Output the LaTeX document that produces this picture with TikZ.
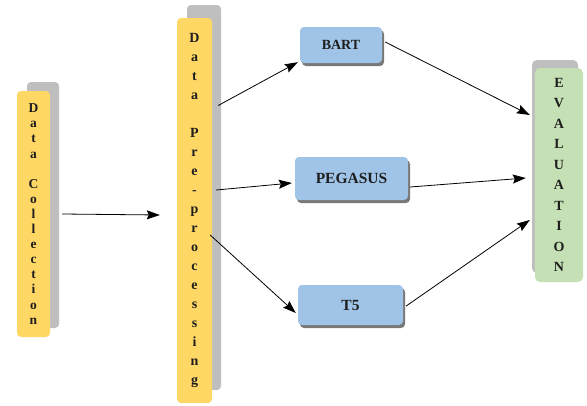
\documentclass[tikz,border=0pt]{standalone}
\usepackage{fontspec}
\setmainfont{Liberation Serif}
\usetikzlibrary{arrows.meta}
\definecolor{ylw}{RGB}{255,215,100}
\definecolor{shd}{RGB}{191,191,191}
\definecolor{blu}{RGB}{160,196,232}
\definecolor{grn}{RGB}{197,224,180}
\definecolor{dsh}{RGB}{120,120,120}
\definecolor{txt}{RGB}{30,30,30}
\tikzset{
  shadowbox/.style={fill=shd, draw=none, rounded corners=4pt, inner sep=0pt},
  vbox/.style={fill=ylw, draw=none, rounded corners=4pt, inner sep=0pt, align=center, text=txt},
  evbox/.style={fill=grn, draw=none, rounded corners=5pt, inner sep=0pt, align=center, text=txt},
  modelbox/.style={fill=blu, draw=none, rounded corners=4pt, inner sep=0pt, text=txt, font=\bfseries},
  modelshadow/.style={fill=dsh, draw=none, rounded corners=4pt, inner sep=0pt},
  arr/.style={draw=black, line width=0.8pt, -{Stealth[length=13pt,width=9pt,inset=2pt]}}
}
\begin{document}
\begin{tikzpicture}[x=1pt,y=-1pt]
\useasboundingbox (0,0) rectangle (587,405);
\fill[white] (0,0) rectangle (587,405);
% Data Collection
\node[shadowbox, minimum width=32pt, minimum height=246pt] (dcs) at (43,205) {};
\node[vbox, minimum width=33pt, minimum height=246pt,
  font=\fontsize{13.5}{15.1}\selectfont\bfseries] (dc) at (33.5,214)
  {D\\a\\t\\a\\~\\C\\o\\l\\l\\e\\c\\t\\i\\o\\n};
% Data Pre-processing
\node[shadowbox, minimum width=34pt, minimum height=385pt] (pps) at (204,197.5) {};
\node[vbox, minimum width=35pt, minimum height=385pt,
  font=\fontsize{14}{19}\selectfont\bfseries] (pp) at (194.5,210.5)
  {D\\a\\t\\a\\~\\P\\r\\e\\-\\p\\r\\o\\c\\e\\s\\s\\i\\n\\g};
% Models
\node[modelshadow, minimum width=82pt, minimum height=36pt] (barts) at (343,48) {};
\node[modelbox, minimum width=82pt, minimum height=36pt, font=\fontsize{14}{16}\selectfont\bfseries] (bart) at (341,45) {BART};
\node[modelshadow, minimum width=113pt, minimum height=43pt] (pegs) at (353.5,181.5) {};
\node[modelbox, minimum width=113pt, minimum height=43pt, font=\fontsize{15.5}{18}\selectfont\bfseries] (peg) at (351.5,178.5) {PEGASUS};
\node[modelshadow, minimum width=105pt, minimum height=40pt] (t5s) at (352.5,308) {};
\node[modelbox, minimum width=105pt, minimum height=40pt, font=\fontsize{15.5}{18}\selectfont\bfseries] (t5) at (350.5,305) {T5};
% Evaluation
\node[shadowbox, minimum width=46pt, minimum height=213pt, rounded corners=5pt] (evs) at (555,166.5) {};
\node[evbox, minimum width=48pt, minimum height=214pt,
  font=\fontsize{14}{20.5}\selectfont\bfseries] (ev) at (559,175)
  {E\\V\\A\\L\\U\\A\\T\\I\\O\\N};
% Connectors
\draw[arr] ([xshift=12pt]dc.east) -- ([xshift=-17pt,yshift=-1pt]pp.west |- dc.east);
\draw[arr] ([xshift=6pt,yshift=105pt]pp.east) -- ([xshift=-2pt,yshift=1pt]bart.south west);
\draw[arr] ([xshift=4pt,yshift=20.5pt]pp.east) -- ([xshift=-3pt,yshift=-4.5pt]peg.west);
\draw[arr] ([xshift=-2pt,yshift=-24.5pt]pp.east) -- ([xshift=-2pt,yshift=-8pt]t5.west);
\draw[arr] ([xshift=3pt,yshift=3pt]bart.east) -- ([xshift=-5pt,yshift=60pt]ev.west);
\draw[arr] ([xshift=2pt,yshift=-8.5pt]peg.east) -- ([xshift=-9pt,yshift=-3pt]ev.west);
\draw[arr] ([xshift=3pt,yshift=-1pt]t5.east) -- ([xshift=-5pt,yshift=-45pt]ev.west);
\end{tikzpicture}
\end{document}
